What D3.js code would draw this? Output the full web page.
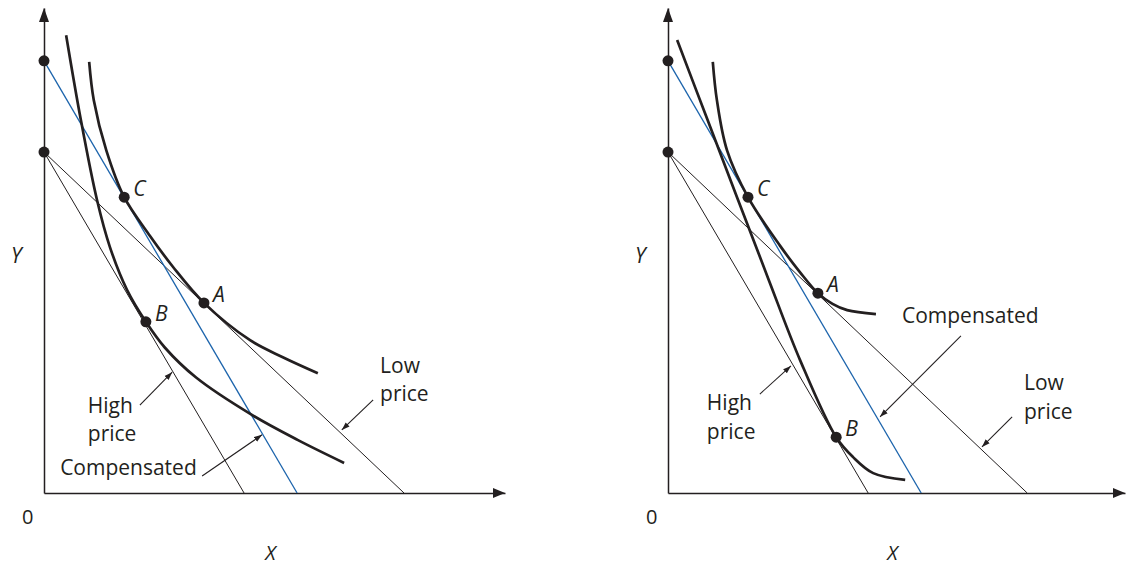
<!DOCTYPE html>
<html>
<head>
<meta charset="utf-8">
<script src="https://cdn.jsdelivr.net/npm/d3@7"></script>
<style>
  body { margin: 0; background: #fff; }
  svg text { font-family: "Open Sans", sans-serif; fill: #231f20; }
</style>
</head>
<body>
<div id="chart"></div>
<script>
// budget lines: y-intercept and x-intercept (units of the good)
const leftBudget = [
    { id: "low", yInt: 7.03, xInt: 7.81 },
    { id: "high", yInt: 7.03, xInt: 4.34 },
    { id: "compensated", yInt: 8.91, xInt: 5.49 }
];
const rightBudget = [
    { id: "low", yInt: 7.03, xInt: 7.86 },
    { id: "high", yInt: 7.03, xInt: 4.38 },
    { id: "compensated", yInt: 8.91, xInt: 5.54 }
];

// indifference curves
const leftCurveCA = [[0.98, 8.89], [1.08, 8.10], [1.35, 7.07], [1.74, 6.10], [2.30, 5.30], [2.80, 4.66],
    [3.47, 3.92], [4.47, 3.15], [5.18, 2.80], [5.94, 2.47]];
const leftCurveB = [[0.48, 9.44], [0.80, 7.69], [1.15, 6.04], [1.43, 5.07], [1.80, 4.19], [2.21, 3.53],
    [2.62, 3.00], [3.30, 2.38], [4.51, 1.61], [5.51, 1.09], [6.51, 0.62]];
const rightCurveCA = [[0.98, 8.89], [1.07, 8.10], [1.29, 7.07], [1.75, 6.10], [2.45, 5.10], [2.89, 4.55],
    [3.28, 4.12], [3.60, 3.90], [3.92, 3.77], [4.55, 3.69]];
const rightCurveB = [[0.20, 9.34], [0.85, 7.73], [1.51, 6.10], [2.19, 4.43], [2.89, 2.74], [3.68, 1.15],
    [4.05, 0.74], [4.49, 0.41], [5.19, 0.27]];

// equilibrium points
const leftPoints = [
    { label: "C", x: 1.74, y: 6.10 },
    { label: "A", x: 3.47, y: 3.92 },
    { label: "B", x: 2.21, y: 3.53 }
];
const rightPoints = [
    { label: "C", x: 1.75, y: 6.10 },
    { label: "A", x: 3.28, y: 4.12 },
    { label: "B", x: 3.68, y: 1.15 }
];

// callouts: text lines at [x, y] and an arrow from -> to
const leftNotes = [
    { lines: ["High", "price"], at: [0.95, 1.65], from: [2.08, 1.81], to: [2.78, 2.49] },
    { lines: ["Compensated"], at: [0.35, 0.37], from: [3.43, 0.35], to: [4.73, 1.20] },
    { lines: ["Low", "price"], at: [7.29, 2.48], from: [7.14, 1.92], to: [6.46, 1.30] }
];
const rightNotes = [
    { lines: ["High", "price"], at: [0.85, 1.71], from: [2.01, 2.04], to: [2.69, 2.62] },
    { lines: ["Compensated"], at: [5.12, 3.51], from: [6.41, 3.24], to: [4.64, 1.57] },
    { lines: ["Low", "price"], at: [7.79, 2.12], from: [7.53, 1.57], to: [6.87, 0.95] }
];

const width = 1127, height = 565;
const ink = "#231f20", blue = "#1c64ac";

const svg = d3.select("#chart").append("svg")
    .attr("width", width)
    .attr("height", height);

svg.append("defs").append("marker")
    .attr("id", "tip")
    .attr("viewBox", "0 0 10 10")
    .attr("refX", 10).attr("refY", 5)
    .attr("markerWidth", 8).attr("markerHeight", 8)
    .attr("markerUnits", "userSpaceOnUse")
    .attr("orient", "auto")
    .append("path")
    .attr("d", "M0,1.5L10,5L0,8.5Z")
    .attr("fill", ink);

const panels = [
    { left: 44, right: 505, budget: leftBudget, curves: [leftCurveCA, leftCurveB], points: leftPoints, notes: leftNotes },
    { left: 668, right: 1125, budget: rightBudget, curves: [rightCurveCA, rightCurveB], points: rightPoints, notes: rightNotes }
];

panels.forEach(p => {
    const x = d3.scaleLinear().domain([0, 10]).range([p.left, p.right]);
    const y = d3.scaleLinear().domain([0, 10]).range([493, 8]);
    const g = svg.append("g");

    // axes
    g.append("g")
        .attr("transform", `translate(0,${y(0)})`)
        .call(d3.axisBottom(x).ticks(0).tickSizeOuter(0))
        .call(a => a.select(".domain").attr("stroke", ink).attr("stroke-width", 1.5));
    g.append("g")
        .attr("transform", `translate(${x(0)},0)`)
        .call(d3.axisLeft(y).ticks(0).tickSizeOuter(0))
        .call(a => a.select(".domain").attr("stroke", ink).attr("stroke-width", 1.5));
    g.append("path")
        .attr("d", `M${x(10)},${y(0)}l-12,-5l0,10Z`)
        .attr("fill", ink);
    g.append("path")
        .attr("d", `M${x(0)},${y(10)}l-5,14l10,0Z`)
        .attr("fill", ink);

    g.append("text").attr("x", x(0) - 22).attr("y", y(0) + 31).attr("font-size", 20).text("0");
    g.append("text").attr("x", x(0) - 33).attr("y", 263).attr("font-size", 21)
        .attr("font-style", "italic").text("Y");
    g.append("text").attr("x", x(4.8)).attr("y", 560).attr("font-size", 20)
        .attr("font-style", "italic").text("X");

    // budget lines
    g.selectAll(".budget")
        .data(p.budget)
        .join("line")
        .attr("x1", x(0)).attr("y1", d => y(d.yInt))
        .attr("x2", d => x(d.xInt)).attr("y2", y(0))
        .attr("stroke", d => d.id === "compensated" ? blue : ink)
        .attr("stroke-width", d => d.id === "compensated" ? 1.3 : 1);

    // indifference curves
    const line = d3.line().x(d => x(d[0])).y(d => y(d[1])).curve(d3.curveCatmullRom);
    g.selectAll(".curve")
        .data(p.curves)
        .join("path")
        .attr("d", line)
        .attr("fill", "none")
        .attr("stroke", ink)
        .attr("stroke-width", 2.7)
        .attr("stroke-linecap", "butt");

    // intercept dots
    const intercepts = Array.from(new Set(p.budget.map(d => d.yInt)));
    g.selectAll(".ydot")
        .data(intercepts)
        .join("circle")
        .attr("cx", x(0)).attr("cy", d => y(d))
        .attr("r", 5.5).attr("fill", ink);

    // equilibrium points
    g.selectAll(".pt")
        .data(p.points)
        .join("circle")
        .attr("cx", d => x(d.x)).attr("cy", d => y(d.y))
        .attr("r", 5.5).attr("fill", ink);
    g.selectAll(".ptlabel")
        .data(p.points)
        .join("text")
        .attr("x", d => x(d.x) + 9).attr("y", d => y(d.y) - 1)
        .attr("font-size", 21).attr("font-style", "italic")
        .text(d => d.label);

    // callouts
    p.notes.forEach(n => {
        g.append("line")
            .attr("x1", x(n.from[0])).attr("y1", y(n.from[1]))
            .attr("x2", x(n.to[0])).attr("y2", y(n.to[1]))
            .attr("stroke", ink).attr("stroke-width", 1.1)
            .attr("marker-end", "url(#tip)");
        const t = g.append("text")
            .attr("x", x(n.at[0])).attr("y", y(n.at[1]))
            .attr("font-size", 21);
        n.lines.forEach((s, i) => {
            t.append("tspan").attr("x", x(n.at[0])).attr("dy", i ? 28.5 : 0).text(s);
        });
    });
});
</script>
</body>
</html>
